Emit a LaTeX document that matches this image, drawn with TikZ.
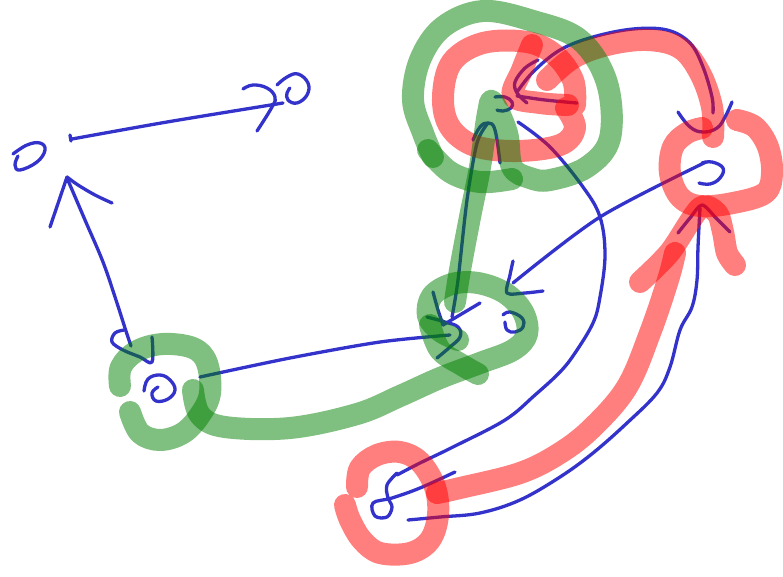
\documentclass[tikz,border=0pt]{standalone}
\definecolor{penblue}{RGB}{51,51,204}
\definecolor{hlg}{RGB}{0,128,0}
\definecolor{hlr}{RGB}{255,0,0}
\tikzset{
  pen/.style={draw=penblue, line width=3.3pt, line cap=round, line join=round},
  hlgreen/.style={draw=hlg, draw opacity=0.5, line width=22pt, line cap=round, line join=round},
  hlred/.style={draw=hlr, draw opacity=0.5, line width=22pt, line cap=round, line join=round},
}
\begin{document}
\begin{tikzpicture}[x=1pt,y=-1pt]
\useasboundingbox (0,0) rectangle (783,576);
\fill[white] (0,0) rectangle (783,576);
% ---------- blue pen strokes ----------
% node A
\draw[pen] plot[smooth,tension=0.7] coordinates {(13,154) (27,145) (40,143) (45,150) (37,162) (20,170) (15,165) (18,156)};
% A -> B
\draw[pen] (70,135) -- (71,141);
\draw[pen] plot[smooth] coordinates {(72,139) (167,122) (283,103)};
\draw[pen] plot[smooth,tension=0.7] coordinates {(243,89) (253,85) (267,88) (275,97) (272,107) (257,131)};
% node B
\draw[pen] plot[smooth,tension=0.7] coordinates {(277,85) (287,77) (298,74) (308,83) (307,95) (297,103) (288,100) (287,93) (290,88)};
% C -> A
\draw[pen] plot[smooth,tension=0.6] coordinates {(67,178) (85,220) (103,262) (116,300) (125,328) (131,346)};
\draw[pen] plot[smooth,tension=0.6] coordinates {(124,330) (115,333) (112,342) (123,350) (140,357) (152,362) (152,337)};
\draw[pen] (50,227) -- (67,177);
\draw[pen] plot[smooth,tension=0.6] coordinates {(67,177) (78,185) (95,195) (112,203)};
% node C
\draw[pen] plot[smooth,tension=0.7] coordinates {(144,391) (148,379) (160,375) (170,380) (175,390) (168,399) (156,401) (152,393) (158,387)};
% C -> D
\draw[pen] plot[smooth] coordinates {(200,377) (290,358) (380,342) (450,335)};
\draw[pen] plot[smooth] coordinates {(433,292) (438,310) (443,325)};
\draw[pen] plot[smooth,tension=0.7] coordinates {(427,317) (445,322) (458,327) (460,337) (450,347) (437,358)};
\draw[pen] (480,303) -- (443,325);
% D -> E
\draw[pen] plot[smooth] coordinates {(452,317) (458,280) (467,200) (477,143) (488,123)};
\draw[pen] plot[smooth,tension=0.7] coordinates {(473,140) (480,127) (488,123) (495,130) (500,163)};
% node D
\draw[pen] plot[smooth,tension=0.7] coordinates {(503,315) (510,312) (522,318) (523,327) (515,332) (507,330) (505,322)};
% F -> D
\draw[pen] plot[smooth] coordinates {(706,162) (600,217) (513,283)};
\draw[pen] plot[smooth] coordinates {(513,261) (510,275) (507,293) (525,293) (543,291)};
% E -> G
\draw[pen] plot[smooth,tension=0.6] coordinates {(518,122) (550,147) (583,187) (600,217) (605,255) (600,297) (593,323) (575,353) (560,372) (535,395) (505,420) (453,447) (420,463) (397,475)};
\draw[pen] plot[smooth,tension=0.6] coordinates {(455,472) (420,488) (392,498) (373,503) (375,516) (387,517) (392,507) (388,498) (387,485) (397,473)};
% G -> F
\draw[pen] plot[smooth,tension=0.6] coordinates {(408,520) (440,517) (480,513) (520,500) (560,477) (593,453) (627,423) (657,393) (670,367) (680,330) (692,307) (697,280) (698,247) (700,208)};
\draw[pen] plot[smooth,tension=0.5] coordinates {(678,233) (690,218) (702,205) (716,218) (730,232)};
% node F
\draw[pen] plot[smooth,tension=0.7] coordinates {(702,163) (712,162) (723,168) (720,178) (710,184) (699,183)};
% E <-> F
\draw[pen] plot[smooth,tension=0.6] coordinates {(517,92) (533,72) (560,50) (593,37) (633,29) (667,30) (690,43) (703,67) (712,97) (713,113)};
\draw[pen] plot[smooth,tension=0.6] coordinates {(538,60) (525,68) (515,82) (517,93) (527,103)};
\draw[pen] plot[smooth] coordinates {(577,103) (545,100) (517,96)};
\draw[pen] plot[smooth,tension=0.7] coordinates {(678,112) (690,127) (703,132) (717,128) (725,117) (732,102)};
% node E
\draw[pen] plot[smooth,tension=0.7] coordinates {(495,97) (505,97) (512,102) (511,108) (503,111) (497,110)};
% ---------- red highlighter ----------
\draw[hlred] plot[smooth,tension=0.6] coordinates {(566,108) (575,128) (560,145) (517,151) (475,146) (450,127) (443,97) (452,62) (483,43) (527,42) (555,55) (573,80) (575,105)};
\draw[hlred] plot[smooth,tension=0.6] coordinates {(532,45) (522,70) (513,96) (540,103) (568,105)};
\draw[hlred] plot[smooth,tension=0.6] coordinates {(547,80) (573,58) (607,45) (647,40) (680,48) (700,73) (712,107) (713,137)};
\draw[hlred] plot[smooth,tension=0.6] coordinates {(737,120) (755,127) (768,147) (772,173) (765,193) (733,203) (700,206) (680,197) (670,173) (673,147) (687,133) (702,128)};
\draw[hlred] plot[smooth,tension=0.6] coordinates {(437,493) (460,488) (520,473) (560,453) (593,427) (627,387) (650,333) (668,280) (675,253)};
\draw[hlred] plot[smooth,tension=0.5] coordinates {(640,282) (670,252) (700,208) (717,213) (723,232) (727,253) (735,265)};
\draw[hlred] plot[smooth,tension=0.6] coordinates {(357,487) (360,468) (377,455) (400,452) (420,462) (435,487) (438,515) (430,540) (410,553) (380,553) (362,540) (350,520) (345,505)};
% ---------- green highlighter ----------
\draw[hlgreen] plot[smooth,tension=0.6] coordinates {(120,386) (121,367) (137,351) (163,344) (193,348) (207,363) (210,393) (200,415) (183,433) (160,440) (140,433) (130,412)};
\draw[hlgreen] plot[smooth,tension=0.6] coordinates {(193,390) (200,415) (225,427) (290,428) (357,414) (400,396) (440,378) (480,363) (513,350) (527,334) (523,312) (505,293) (478,283) (452,284) (432,296) (428,316) (440,331) (458,340)};
\draw[hlgreen] plot[smooth,tension=0.6] coordinates {(430,325) (440,350) (462,365) (478,374)};
\draw[hlgreen] plot[smooth,tension=0.6] coordinates {(455,302) (460,270) (470,217) (480,167) (488,113) (493,102) (507,133) (512,167) (530,178) (550,180) (587,167) (610,138) (607,83) (580,40) (533,21) (483,11) (443,27) (420,60) (413,100) (423,133) (433,157)};
\draw[hlgreen] plot[smooth,tension=0.6] coordinates {(428,150) (450,172) (480,182) (512,179)};
\end{tikzpicture}
\end{document}
